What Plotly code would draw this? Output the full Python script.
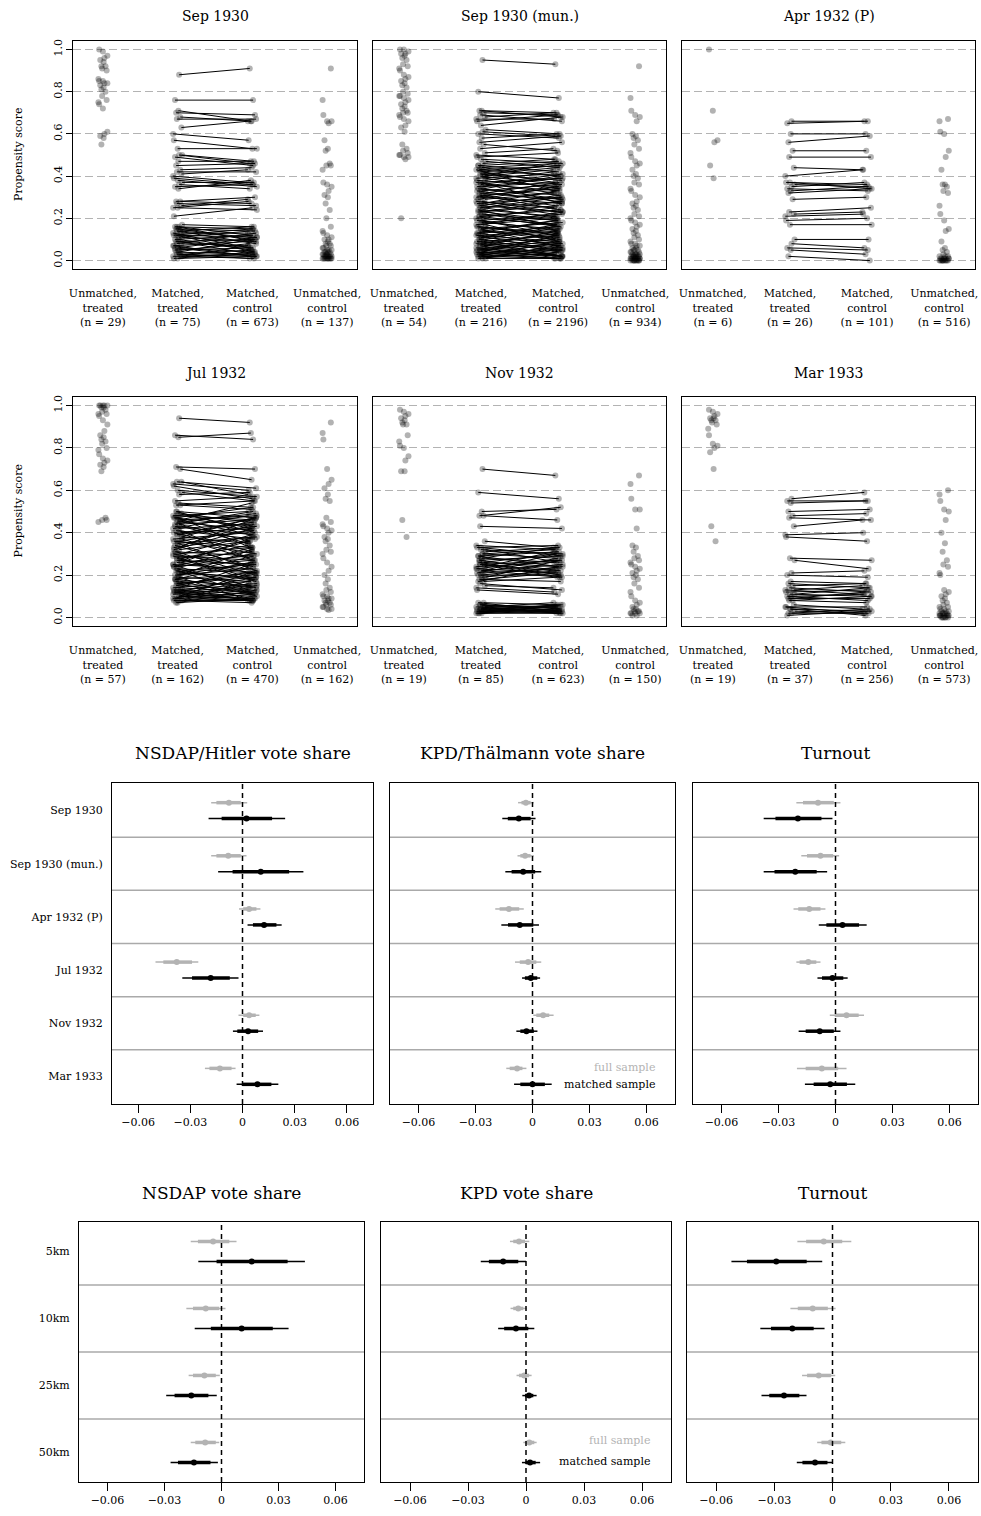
import plotly.graph_objects as go

# ------------------------------------------------------------------
# DATA
# ------------------------------------------------------------------
ps_titles = ["Sep 1930", "Sep 1930 (mun.)", "Apr 1932 (P)", "Jul 1932", "Nov 1932", "Mar 1933"]
ps_groups = ["Unmatched,<br>treated", "Matched,<br>treated", "Matched,<br>control", "Unmatched,<br>control"]
ps_counts = [[29, 75, 673, 137], [54, 216, 2196, 934], [6, 26, 101, 516],
             [57, 162, 470, 162], [19, 85, 623, 150], [19, 37, 256, 573]]

# unmatched treated propensity scores
sep30_ut = [1.00, 0.99, 0.97, 0.96, 0.95, 0.94, 0.92, 0.92, 0.91, 0.90, 0.86, 0.85, 0.85, 0.84, 0.84,
            0.83, 0.82, 0.81, 0.80, 0.78, 0.76, 0.75, 0.74, 0.72, 0.61, 0.60, 0.59, 0.58, 0.55]
mun30_ut = [1.00, 1.00, 0.99, 0.98, 0.98, 0.97, 0.96, 0.95, 0.93, 0.92, 0.91, 0.90, 0.88, 0.87, 0.86,
            0.85, 0.84, 0.83, 0.82, 0.80, 0.79, 0.78, 0.78, 0.77, 0.76, 0.75, 0.74, 0.73, 0.72, 0.71,
            0.70, 0.70, 0.69, 0.68, 0.67, 0.66, 0.64, 0.63, 0.61, 0.55, 0.53, 0.52, 0.51, 0.50, 0.50,
            0.49, 0.49, 0.48, 0.20]
apr32_ut = [1.00, 0.71, 0.57, 0.56, 0.45, 0.39]
jul32_ut = [1.00, 1.00, 1.00, 1.00, 1.00, 0.99, 0.99, 0.98, 0.97, 0.96, 0.96, 0.95, 0.93, 0.91, 0.88,
            0.86, 0.85, 0.84, 0.83, 0.82, 0.80, 0.79, 0.77, 0.75, 0.74, 0.73, 0.72, 0.71, 0.69, 0.47,
            0.46, 0.46, 0.45]
nov32_ut = [0.98, 0.97, 0.96, 0.95, 0.94, 0.93, 0.92, 0.91, 0.91, 0.86, 0.83, 0.81, 0.80, 0.76, 0.74,
            0.69, 0.69, 0.46, 0.38]
mar33_ut = [0.98, 0.97, 0.96, 0.95, 0.94, 0.94, 0.93, 0.93, 0.92, 0.91, 0.89, 0.86, 0.82, 0.81, 0.80,
            0.78, 0.70, 0.43, 0.36]

# matched pairs (treated score, control score)
sep30_pairs = [(0.88, 0.91), (0.76, 0.76), (0.71, 0.66), (0.70, 0.69), (0.68, 0.66), (0.67, 0.67),
               (0.63, 0.66), (0.60, 0.57), (0.57, 0.53), (0.53, 0.53), (0.50, 0.47), (0.50, 0.46),
               (0.49, 0.45), (0.47, 0.47), (0.45, 0.46), (0.43, 0.44), (0.42, 0.42), (0.41, 0.43),
               (0.40, 0.37), (0.39, 0.36), (0.38, 0.35), (0.37, 0.37), (0.36, 0.34), (0.35, 0.36),
               (0.34, 0.38), (0.28, 0.30), (0.28, 0.27), (0.27, 0.26), (0.26, 0.29), (0.25, 0.28),
               (0.21, 0.25), (0.25, 0.24),
               (0.17, 0.16), (0.16, 0.12), (0.16, 0.15), (0.15, 0.10), (0.15, 0.14), (0.14, 0.16),
               (0.14, 0.08), (0.13, 0.13), (0.13, 0.06), (0.12, 0.15), (0.12, 0.11), (0.11, 0.09),
               (0.11, 0.14), (0.10, 0.12), (0.10, 0.05), (0.09, 0.10), (0.09, 0.03), (0.08, 0.13),
               (0.08, 0.07), (0.07, 0.09), (0.07, 0.02), (0.06, 0.11), (0.06, 0.04), (0.05, 0.08),
               (0.05, 0.06), (0.04, 0.10), (0.04, 0.03), (0.03, 0.05), (0.03, 0.02), (0.02, 0.07),
               (0.02, 0.03), (0.01, 0.04), (0.01, 0.02), (0.02, 0.01), (0.03, 0.01), (0.06, 0.02),
               (0.09, 0.06), (0.12, 0.04), (0.14, 0.11), (0.16, 0.09)]
mun30_pairs = [(0.95, 0.93), (0.80, 0.77),
               (0.71, 0.70), (0.71, 0.68), (0.70, 0.69), (0.69, 0.66), (0.68, 0.70), (0.67, 0.67),
               (0.66, 0.69), (0.64, 0.68), (0.62, 0.60), (0.61, 0.59), (0.60, 0.58), (0.58, 0.60),
               (0.56, 0.59), (0.55, 0.52), (0.53, 0.56), (0.51, 0.53),
               (0.50, 0.48), (0.49, 0.51), (0.48, 0.46), (0.47, 0.44), (0.46, 0.48), (0.45, 0.42),
               (0.44, 0.46), (0.43, 0.40), (0.42, 0.45), (0.41, 0.38), (0.40, 0.43), (0.39, 0.41),
               (0.38, 0.35), (0.37, 0.39), (0.36, 0.33), (0.35, 0.37), (0.34, 0.31), (0.33, 0.36),
               (0.32, 0.29), (0.31, 0.34), (0.30, 0.27), (0.29, 0.32), (0.28, 0.25), (0.27, 0.30),
               (0.26, 0.23), (0.25, 0.28), (0.24, 0.21), (0.23, 0.26), (0.22, 0.19), (0.21, 0.24),
               (0.20, 0.17), (0.19, 0.22), (0.18, 0.15), (0.17, 0.20), (0.16, 0.13), (0.15, 0.18),
               (0.14, 0.11), (0.13, 0.16), (0.12, 0.09), (0.11, 0.14), (0.10, 0.07), (0.09, 0.12),
               (0.08, 0.05), (0.07, 0.10), (0.06, 0.03), (0.05, 0.08), (0.04, 0.02), (0.03, 0.06),
               (0.02, 0.01), (0.01, 0.04), (0.02, 0.03), (0.03, 0.01), (0.04, 0.05), (0.05, 0.02),
               (0.06, 0.09), (0.08, 0.03), (0.09, 0.06), (0.11, 0.08), (0.12, 0.15), (0.14, 0.10),
               (0.16, 0.12), (0.18, 0.21), (0.21, 0.16), (0.23, 0.19), (0.25, 0.30), (0.27, 0.22),
               (0.30, 0.35), (0.33, 0.28), (0.36, 0.41), (0.39, 0.34), (0.42, 0.37), (0.45, 0.47),
               (0.44, 0.40), (0.43, 0.45), (0.41, 0.44), (0.40, 0.36), (0.38, 0.42), (0.37, 0.32),
               (0.35, 0.39), (0.34, 0.29), (0.32, 0.37), (0.31, 0.26), (0.29, 0.35), (0.28, 0.23),
               (0.26, 0.31), (0.25, 0.20), (0.23, 0.28), (0.22, 0.17), (0.20, 0.25), (0.19, 0.14),
               (0.17, 0.23), (0.16, 0.10), (0.14, 0.19), (0.13, 0.07), (0.11, 0.17), (0.10, 0.04),
               (0.08, 0.13), (0.07, 0.02), (0.05, 0.11), (0.04, 0.01), (0.03, 0.08), (0.02, 0.05),
               (0.01, 0.01), (0.01, 0.07), (0.02, 0.09), (0.04, 0.12), (0.06, 0.01), (0.07, 0.14),
               (0.09, 0.02), (0.10, 0.16), (0.12, 0.05), (0.13, 0.19), (0.15, 0.06), (0.17, 0.09),
               (0.19, 0.12), (0.24, 0.16), (0.27, 0.33), (0.31, 0.24), (0.34, 0.40), (0.37, 0.27),
               (0.40, 0.46), (0.43, 0.33)]
apr32_pairs = [(0.66, 0.66), (0.65, 0.66), (0.60, 0.60), (0.56, 0.59), (0.52, 0.52), (0.49, 0.49),
               (0.44, 0.43), (0.40, 0.43), (0.37, 0.36), (0.37, 0.34), (0.36, 0.35), (0.35, 0.37),
               (0.34, 0.33), (0.33, 0.35), (0.32, 0.34), (0.29, 0.30), (0.23, 0.25), (0.22, 0.23),
               (0.21, 0.22), (0.19, 0.20), (0.17, 0.17), (0.10, 0.10), (0.08, 0.06), (0.06, 0.05),
               (0.05, 0.03), (0.02, 0.00)]
jul32_pairs = [(0.94, 0.92), (0.86, 0.84), (0.85, 0.87), (0.71, 0.70), (0.70, 0.65),
               (0.64, 0.61), (0.64, 0.58), (0.63, 0.60), (0.62, 0.56), (0.60, 0.57), (0.59, 0.55),
               (0.58, 0.59), (0.55, 0.57), (0.54, 0.52), (0.53, 0.55), (0.53, 0.51),
               (0.50, 0.47), (0.49, 0.45), (0.48, 0.50), (0.47, 0.43), (0.46, 0.48), (0.45, 0.41),
               (0.44, 0.46), (0.43, 0.39), (0.42, 0.44), (0.41, 0.37), (0.40, 0.42), (0.39, 0.47),
               (0.38, 0.35), (0.37, 0.40), (0.36, 0.33), (0.35, 0.38), (0.34, 0.44), (0.32, 0.36),
               (0.31, 0.29), (0.30, 0.33), (0.29, 0.27), (0.28, 0.31), (0.27, 0.25), (0.26, 0.29),
               (0.25, 0.23), (0.24, 0.27), (0.23, 0.21), (0.22, 0.25), (0.21, 0.19), (0.20, 0.23),
               (0.19, 0.17), (0.18, 0.21), (0.17, 0.15), (0.16, 0.19), (0.15, 0.13), (0.14, 0.17),
               (0.13, 0.11), (0.12, 0.15), (0.11, 0.09), (0.10, 0.13), (0.09, 0.08), (0.08, 0.11),
               (0.07, 0.09), (0.08, 0.07), (0.09, 0.12), (0.10, 0.08), (0.11, 0.14), (0.12, 0.10),
               (0.13, 0.16), (0.14, 0.12), (0.16, 0.20), (0.18, 0.14), (0.20, 0.26), (0.22, 0.18),
               (0.24, 0.30), (0.26, 0.21), (0.28, 0.34), (0.30, 0.24), (0.33, 0.38), (0.36, 0.30),
               (0.40, 0.45), (0.44, 0.36), (0.47, 0.52),
               (0.49, 0.42), (0.48, 0.46), (0.46, 0.39), (0.45, 0.49), (0.43, 0.35), (0.42, 0.48),
               (0.40, 0.31), (0.39, 0.43), (0.37, 0.27), (0.36, 0.41), (0.34, 0.24), (0.33, 0.46),
               (0.31, 0.20), (0.30, 0.39), (0.28, 0.17), (0.27, 0.36), (0.25, 0.13), (0.24, 0.33),
               (0.22, 0.10), (0.21, 0.29), (0.19, 0.08), (0.18, 0.26), (0.16, 0.09), (0.15, 0.22),
               (0.13, 0.08), (0.12, 0.19), (0.10, 0.09), (0.09, 0.16), (0.08, 0.08), (0.07, 0.13),
               (0.08, 0.18), (0.10, 0.21), (0.12, 0.08), (0.14, 0.25), (0.17, 0.11), (0.20, 0.32),
               (0.23, 0.14), (0.26, 0.37), (0.29, 0.19), (0.32, 0.42), (0.35, 0.22), (0.38, 0.47),
               (0.41, 0.28), (0.44, 0.50), (0.47, 0.33), (0.50, 0.40), (0.46, 0.54)]
nov32_pairs = [(0.70, 0.67), (0.59, 0.56), (0.50, 0.51), (0.48, 0.52), (0.48, 0.46), (0.43, 0.42),
               (0.36, 0.33), (0.34, 0.32), (0.33, 0.34), (0.32, 0.30), (0.31, 0.33), (0.30, 0.28),
               (0.29, 0.31), (0.28, 0.26), (0.27, 0.29), (0.26, 0.24), (0.25, 0.27), (0.25, 0.22),
               (0.24, 0.26), (0.23, 0.21), (0.22, 0.25), (0.22, 0.19), (0.21, 0.23), (0.20, 0.20),
               (0.19, 0.22), (0.18, 0.17), (0.17, 0.19), (0.16, 0.13), (0.15, 0.14), (0.14, 0.12),
               (0.13, 0.11), (0.33, 0.29), (0.32, 0.26), (0.30, 0.32), (0.29, 0.24), (0.28, 0.33),
               (0.27, 0.22), (0.26, 0.30), (0.25, 0.19), (0.24, 0.31), (0.23, 0.27), (0.21, 0.28),
               (0.20, 0.24), (0.19, 0.27), (0.18, 0.21), (0.17, 0.24), (0.22, 0.30), (0.26, 0.20),
               (0.07, 0.06), (0.06, 0.04), (0.05, 0.07), (0.05, 0.03), (0.04, 0.05),
               (0.04, 0.02), (0.03, 0.04), (0.03, 0.06), (0.02, 0.03), (0.02, 0.02), (0.03, 0.02),
               (0.04, 0.03), (0.06, 0.03), (0.05, 0.05), (0.02, 0.04), (0.03, 0.03), (0.04, 0.06),
               (0.05, 0.02), (0.06, 0.05), (0.07, 0.03), (0.03, 0.05), (0.02, 0.06)]
mar33_pairs = [(0.56, 0.59), (0.55, 0.55), (0.54, 0.55), (0.50, 0.51), (0.48, 0.49), (0.47, 0.46),
               (0.43, 0.46), (0.39, 0.40), (0.38, 0.36), (0.28, 0.27), (0.27, 0.23), (0.21, 0.22),
               (0.20, 0.19), (0.17, 0.16), (0.16, 0.14), (0.15, 0.16), (0.14, 0.12), (0.13, 0.15),
               (0.13, 0.11), (0.12, 0.13), (0.11, 0.10), (0.11, 0.14), (0.10, 0.11), (0.10, 0.08),
               (0.09, 0.12), (0.09, 0.09), (0.08, 0.07), (0.08, 0.10), (0.06, 0.04), (0.05, 0.02),
               (0.05, 0.05), (0.04, 0.03), (0.03, 0.02), (0.02, 0.02), (0.01, 0.03), (0.04, 0.01),
               (0.02, 0.04)]

# unmatched control propensity scores
sep30_uc = [0.91, 0.76, 0.69, 0.66, 0.66, 0.65, 0.57, 0.53, 0.52, 0.46, 0.45, 0.45, 0.43, 0.37, 0.36,
            0.35, 0.33, 0.31, 0.30, 0.27, 0.24, 0.20, 0.16, 0.14, 0.13, 0.12, 0.11, 0.10, 0.10, 0.09,
            0.08, 0.08, 0.07, 0.07, 0.06, 0.06, 0.05, 0.05, 0.05, 0.04, 0.04, 0.04, 0.04, 0.03, 0.03,
            0.03, 0.03, 0.03, 0.02, 0.02, 0.02, 0.02, 0.02, 0.02, 0.02, 0.01, 0.01, 0.01, 0.01, 0.01,
            0.01, 0.01, 0.01, 0.01, 0.01]
mun30_uc = [0.92, 0.77, 0.71, 0.69, 0.68, 0.66, 0.60, 0.59, 0.58, 0.57, 0.55, 0.53, 0.51, 0.49, 0.47,
            0.46, 0.45, 0.43, 0.41, 0.40, 0.39, 0.37, 0.36, 0.34, 0.33, 0.31, 0.30, 0.28, 0.27, 0.26,
            0.25, 0.24, 0.22, 0.21, 0.20, 0.19, 0.18, 0.17, 0.16, 0.15, 0.14, 0.13, 0.12, 0.11, 0.10,
            0.09, 0.08, 0.08, 0.07, 0.07, 0.06, 0.06, 0.05, 0.05, 0.05, 0.04, 0.04, 0.04, 0.03, 0.03,
            0.03, 0.03, 0.02, 0.02, 0.02, 0.02, 0.02, 0.01, 0.01, 0.01, 0.01, 0.01, 0.01, 0.00, 0.00,
            0.00, 0.00, 0.00, 0.00, 0.02, 0.01, 0.01, 0.00, 0.00, 0.03, 0.02, 0.01, 0.00, 0.00]
apr32_uc = [0.67, 0.66, 0.61, 0.60, 0.52, 0.49, 0.43, 0.36, 0.36, 0.35, 0.33, 0.32, 0.26, 0.22, 0.19,
            0.15, 0.14, 0.09, 0.06, 0.05, 0.04, 0.03, 0.02, 0.02, 0.01, 0.01, 0.01, 0.01, 0.01, 0.00,
            0.00, 0.00, 0.00, 0.00, 0.00, 0.00, 0.01, 0.01, 0.00, 0.00, 0.02, 0.00]
jul32_uc = [0.92, 0.87, 0.84, 0.70, 0.65, 0.63, 0.61, 0.58, 0.56, 0.55, 0.47, 0.45, 0.44, 0.43, 0.42,
            0.41, 0.40, 0.38, 0.37, 0.36, 0.34, 0.32, 0.31, 0.30, 0.28, 0.26, 0.24, 0.22, 0.20, 0.18,
            0.16, 0.14, 0.13, 0.12, 0.11, 0.10, 0.10, 0.09, 0.09, 0.08, 0.08, 0.07, 0.07, 0.06, 0.06,
            0.05, 0.05, 0.04, 0.04, 0.035]
nov32_uc = [0.67, 0.63, 0.56, 0.51, 0.51, 0.42, 0.34, 0.33, 0.31, 0.29, 0.28, 0.27, 0.26, 0.25, 0.24,
            0.23, 0.22, 0.21, 0.20, 0.19, 0.18, 0.16, 0.14, 0.12, 0.10, 0.08, 0.07, 0.06, 0.05, 0.04,
            0.04, 0.03, 0.03, 0.03, 0.02, 0.02, 0.02, 0.02, 0.01, 0.01]
mar33_uc = [0.60, 0.58, 0.55, 0.51, 0.50, 0.46, 0.40, 0.35, 0.31, 0.27, 0.25, 0.24, 0.21, 0.20, 0.13,
            0.12, 0.11, 0.10, 0.09, 0.08, 0.07, 0.06, 0.05, 0.05, 0.04, 0.04, 0.03, 0.03, 0.03, 0.02,
            0.02, 0.02, 0.02, 0.01, 0.01, 0.01, 0.01, 0.01, 0.00, 0.00, 0.00, 0.00, 0.01, 0.00, 0.00,
            0.02, 0.01]

ps_ut = [sep30_ut, mun30_ut, apr32_ut, jul32_ut, nov32_ut, mar33_ut]
ps_pairs = [sep30_pairs, mun30_pairs, apr32_pairs, jul32_pairs, nov32_pairs, mar33_pairs]
ps_uc = [sep30_uc, mun30_uc, apr32_uc, jul32_uc, nov32_uc, mar33_uc]

# coefficient plots: (estimate, lower 95, upper 95, lower inner, upper inner)
elec_rows = ["Sep 1930", "Sep 1930 (mun.)", "Apr 1932 (P)", "Jul 1932", "Nov 1932", "Mar 1933"]
dist_rows = ["5km", "10km", "25km", "50km"]
x_ticks = [-0.06, -0.03, 0, 0.03, 0.06]
x_ticktext = ["\u22120.06", "\u22120.03", "0", "0.03", "0.06"]

nsdap_full = [(-0.0078, -0.0180, 0.0027, -0.0150, -0.0010),
              (-0.0082, -0.0180, 0.0023, -0.0150, -0.0010),
              (0.0038, -0.0020, 0.0103, 0.0004, 0.0080),
              (-0.0378, -0.0500, -0.0254, -0.0455, -0.0290),
              (0.0038, -0.0023, 0.0097, 0.0004, 0.0076),
              (-0.0130, -0.0216, -0.0040, -0.0190, -0.0063)]
nsdap_match = [(0.0023, -0.0195, 0.0245, -0.0120, 0.0170),
               (0.0105, -0.0140, 0.0350, -0.0057, 0.0268),
               (0.0124, 0.0029, 0.0225, 0.0060, 0.0195),
               (-0.0183, -0.0346, -0.0023, -0.0290, -0.0073),
               (0.0032, -0.0055, 0.0118, -0.0030, 0.0090),
               (0.0086, -0.0034, 0.0206, 0.0000, 0.0166)]
kpd_full = [(-0.0035, -0.0076, 0.0007, -0.0058, -0.0010),
            (-0.0039, -0.0079, 0.0007, -0.0064, -0.0010),
            (-0.0124, -0.0196, -0.0046, -0.0173, -0.0070),
            (-0.0023, -0.0092, 0.0046, -0.0067, 0.0020),
            (0.0056, 0.0004, 0.0111, 0.0020, 0.0088),
            (-0.0081, -0.0138, -0.0032, -0.0120, -0.0053)]
kpd_match = [(-0.0072, -0.0159, 0.0016, -0.0130, -0.0010),
             (-0.0049, -0.0143, 0.0046, -0.0110, 0.0014),
             (-0.0067, -0.0164, 0.0034, -0.0129, 0.0004),
             (-0.0009, -0.0055, 0.0040, -0.0040, 0.0025),
             (-0.0032, -0.0085, 0.0026, -0.0064, 0.0007),
             (0.0000, -0.0097, 0.0101, -0.0064, 0.0065)]
turn_full = [(-0.0092, -0.0206, 0.0026, -0.0171, -0.0009),
             (-0.0079, -0.0180, 0.0019, -0.0150, -0.0012),
             (-0.0138, -0.0221, -0.0053, -0.0196, -0.0079),
             (-0.0143, -0.0206, -0.0079, -0.0189, -0.0101),
             (0.0058, -0.0030, 0.0150, -0.0004, 0.0122),
             (-0.0072, -0.0203, 0.0058, -0.0157, 0.0014)]
turn_match = [(-0.0198, -0.0378, -0.0016, -0.0316, -0.0074),
              (-0.0212, -0.0378, -0.0044, -0.0321, -0.0099),
              (0.0037, -0.0088, 0.0164, -0.0048, 0.0124),
              (-0.0016, -0.0095, 0.0064, -0.0071, 0.0041),
              (-0.0083, -0.0194, 0.0026, -0.0157, -0.0009),
              (-0.0028, -0.0161, 0.0104, -0.0115, 0.0060)]
nsdap_d_full = [(-0.0044, -0.0162, 0.0079, -0.0124, 0.0041),
                (-0.0083, -0.0185, 0.0021, -0.0150, -0.0012),
                (-0.0090, -0.0173, -0.0009, -0.0150, -0.0030),
                (-0.0086, -0.0162, -0.0012, -0.0138, -0.0030)]
nsdap_d_match = [(0.0159, -0.0122, 0.0439, -0.0026, 0.0348),
                 (0.0106, -0.0141, 0.0353, -0.0056, 0.0270),
                 (-0.0159, -0.0291, -0.0025, -0.0247, -0.0069),
                 (-0.0145, -0.0268, -0.0019, -0.0229, -0.0058)]
kpd_d_full = [(-0.0036, -0.0083, 0.0017, -0.0066, -0.0005),
              (-0.0040, -0.0080, 0.0003, -0.0066, -0.0014),
              (-0.0009, -0.0049, 0.0029, -0.0036, 0.0016),
              (0.0017, -0.0014, 0.0055, -0.0002, 0.0043)]
kpd_d_match = [(-0.0118, -0.0234, 0.0000, -0.0192, -0.0040),
               (-0.0052, -0.0144, 0.0043, -0.0113, 0.0012),
               (0.0016, -0.0019, 0.0055, -0.0005, 0.0038),
               (0.0021, -0.0021, 0.0073, -0.0002, 0.0050)]
turn_d_full = [(-0.0045, -0.0181, 0.0097, -0.0136, 0.0050),
               (-0.0102, -0.0217, 0.0016, -0.0179, -0.0024),
               (-0.0071, -0.0157, 0.0014, -0.0131, -0.0007),
               (-0.0009, -0.0079, 0.0066, -0.0057, 0.0045)]
turn_d_match = [(-0.0290, -0.0521, -0.0053, -0.0441, -0.0133),
                (-0.0207, -0.0372, -0.0041, -0.0317, -0.0097),
                (-0.0250, -0.0366, -0.0134, -0.0326, -0.0171),
                (-0.0090, -0.0184, 0.0000, -0.0155, -0.0026)]

coef_titles = ["NSDAP/Hitler vote share", "KPD/Th\u00e4lmann vote share", "Turnout",
               "NSDAP vote share", "KPD vote share", "Turnout"]
coef_full = [nsdap_full, kpd_full, turn_full, nsdap_d_full, kpd_d_full, turn_d_full]
coef_match = [nsdap_match, kpd_match, turn_match, nsdap_d_match, kpd_d_match, turn_d_match]

# ------------------------------------------------------------------
# STYLE / LAYOUT
# ------------------------------------------------------------------
W, H = 981, 1516
FONT = "DejaVu Serif"
PT = "rgba(0,0,0,0.30)"
LIGHT = "#b3b3b3"
JIT = [-0.05, 0.02, -0.02, 0.05, 0.0, -0.035, 0.035, -0.06, 0.06, 0.01, -0.01]


def jit(i, phase):
    return JIT[(i * 4 + phase) % len(JIT)]


def xdom(a, b):
    return [a / W, b / W]


def ydom(top, bot):
    return [1 - bot / H, 1 - top / H]


def ax_names(k):
    return ("x" if k == 1 else f"x{k}"), ("y" if k == 1 else f"y{k}")


fig = go.Figure()
layout = dict(width=W, height=H, margin=dict(l=0, r=0, t=0, b=0), template="none",
              paper_bgcolor="white", plot_bgcolor="white", showlegend=False,
              font=dict(family=FONT, size=11, color="black"))
annotations = []
shapes = []

ps_x = [(73, 357), (373, 666), (682, 975)]
ps_y = [(41, 269), (397, 626)]
ps_title_y = [16, 373]

for k in range(6):
    r, c = divmod(k, 3)
    ai = k + 1
    xs, ys = ax_names(ai)
    ut, pairs, uc = ps_ut[k], ps_pairs[k], ps_uc[k]
    mk = dict(size=6, color=PT, line=dict(width=0))
    fig.add_trace(go.Scatter(x=[1 + jit(i, 0) for i in range(len(ut))], y=ut, mode="markers",
                             marker=mk, xaxis=xs, yaxis=ys, hoverinfo="skip"))
    fig.add_trace(go.Scatter(x=[4 + jit(i, 3) for i in range(len(uc))], y=uc, mode="markers",
                             marker=mk, xaxis=xs, yaxis=ys, hoverinfo="skip"))
    tx = [2 + jit(i, 1) for i in range(len(pairs))]
    cx = [3 + jit(i, 5) for i in range(len(pairs))]
    fig.add_trace(go.Scatter(x=tx + cx, y=[p[0] for p in pairs] + [p[1] for p in pairs],
                             mode="markers", marker=mk, xaxis=xs, yaxis=ys, hoverinfo="skip"))
    lx, ly = [], []
    for i, (t, cc) in enumerate(pairs):
        lx += [tx[i], cx[i], None]
        ly += [t, cc, None]
    fig.add_trace(go.Scatter(x=lx, y=ly, mode="lines", line=dict(color="black", width=1),
                             xaxis=xs, yaxis=ys, hoverinfo="skip"))

    xkey = "xaxis" if ai == 1 else f"xaxis{ai}"
    ykey = "yaxis" if ai == 1 else f"yaxis{ai}"
    layout[xkey] = dict(domain=xdom(*ps_x[c]), anchor=ys, range=[0.6, 4.4],
                        tickvals=[1, 2, 3, 4],
                        ticktext=[f"{g}<br>(n = {n})" for g, n in zip(ps_groups, ps_counts[k])],
                        ticks="", ticklabelstandoff=14, tickfont=dict(size=11),
                        showline=True, mirror=True, linecolor="black", linewidth=1,
                        showgrid=False, zeroline=False, automargin=False, fixedrange=True)
    layout[ykey] = dict(domain=ydom(*ps_y[r]), anchor=xs, range=[-0.04, 1.04],
                        tickvals=[0, 0.2, 0.4, 0.6, 0.8, 1.0],
                        ticktext=["0.0", "0.2", "0.4", "0.6", "0.8", "1.0"],
                        showticklabels=(c == 0), ticks=("outside" if c == 0 else ""),
                        ticklen=6, tickcolor="black", tickangle=-90, tickfont=dict(size=11),
                        showgrid=True, gridcolor="#b3b3b3", gridwidth=1, griddash="8px,4px",
                        showline=True, mirror=True, linecolor="black", linewidth=1,
                        zeroline=False, automargin=False, fixedrange=True)
    annotations.append(dict(text=ps_titles[k], x=(ps_x[c][0] + ps_x[c][1]) / 2 / W,
                            y=1 - ps_title_y[r] / H, xref="paper", yref="paper",
                            xanchor="center", yanchor="middle", showarrow=False,
                            font=dict(size=14)))
    if c == 0:
        annotations.append(dict(text="Propensity score", x=18 / W,
                                y=1 - (ps_y[r][0] + ps_y[r][1]) / 2 / H, xref="paper",
                                yref="paper", textangle=-90, xanchor="center",
                                yanchor="middle", showarrow=False, font=dict(size=11)))

coef_x = [(112, 373), (390, 675), (693, 978), (79, 364), (381, 671), (687, 978)]
coef_y = [(783, 1104), (783, 1104), (783, 1104), (1222, 1482), (1222, 1482), (1222, 1482)]
coef_title_y = [753, 753, 753, 1193, 1193, 1193]

for k in range(6):
    ai = k + 7
    xs, ys = ax_names(ai)
    rows = elec_rows if k < 3 else dist_rows
    nrow = len(rows)
    for data, col, off in ((coef_full[k], LIGHT, -0.15), (coef_match[k], "black", 0.15)):
        thin_x, thin_y, thick_x, thick_y = [], [], [], []
        for i, (est, lo, hi, lo2, hi2) in enumerate(data):
            yy = i + 1 + off
            thin_x += [lo, hi, None]
            thin_y += [yy, yy, None]
            thick_x += [lo2, hi2, None]
            thick_y += [yy, yy, None]
        fig.add_trace(go.Scatter(x=thin_x, y=thin_y, mode="lines", line=dict(color=col, width=1.5),
                                 xaxis=xs, yaxis=ys, hoverinfo="skip"))
        fig.add_trace(go.Scatter(x=thick_x, y=thick_y, mode="lines", line=dict(color=col, width=3.5),
                                 xaxis=xs, yaxis=ys, hoverinfo="skip"))
        fig.add_trace(go.Scatter(x=[d[0] for d in data], y=[i + 1 + off for i in range(len(data))],
                                 mode="markers", marker=dict(size=6, color=col, line=dict(width=0)),
                                 xaxis=xs, yaxis=ys, hoverinfo="skip"))
    yr = [6.52, 0.48] if k < 3 else [4.44, 0.56]
    layout[f"xaxis{ai}"] = dict(domain=xdom(*coef_x[k]), anchor=ys, range=[-0.075, 0.075],
                                tickvals=x_ticks, ticktext=x_ticktext, ticks="outside", ticklen=8,
                                tickcolor="black", tickfont=dict(size=11),
                                showline=True, mirror=True, linecolor="black", linewidth=1,
                                showgrid=False, zeroline=False, automargin=False, fixedrange=True)
    layout[f"yaxis{ai}"] = dict(domain=ydom(*coef_y[k]), anchor=xs, range=yr,
                                tickvals=list(range(1, nrow + 1)), ticktext=rows,
                                showticklabels=(k % 3 == 0), ticks="", ticklabelstandoff=6,
                                tickfont=dict(size=11),
                                showline=True, mirror=True, linecolor="black", linewidth=1,
                                showgrid=False, zeroline=False, automargin=False, fixedrange=True)
    for i in range(1, nrow):
        shapes.append(dict(type="line", xref=f"{xs} domain", yref=ys, x0=0, x1=1,
                           y0=i + 0.5, y1=i + 0.5, line=dict(color="#aaaaaa", width=1.5)))
    shapes.append(dict(type="line", xref=xs, yref=f"{ys} domain", x0=0, x1=0, y0=0, y1=1,
                       line=dict(color="black", width=1.5, dash="5px,4px")))
    annotations.append(dict(text=coef_titles[k], x=(coef_x[k][0] + coef_x[k][1]) / 2 / W,
                            y=1 - coef_title_y[k] / H, xref="paper", yref="paper",
                            xanchor="center", yanchor="middle", showarrow=False,
                            font=dict(size=17)))

for (xr, y1, y2) in ((657, 1067, 1084), (652, 1440, 1461)):
    annotations.append(dict(text="full sample", x=xr / W, y=1 - y1 / H, xref="paper", yref="paper",
                            xanchor="right", yanchor="middle", showarrow=False,
                            font=dict(size=11, color=LIGHT)))
    annotations.append(dict(text="matched sample", x=xr / W, y=1 - y2 / H, xref="paper",
                            yref="paper", xanchor="right", yanchor="middle", showarrow=False,
                            font=dict(size=11, color="black")))

layout["annotations"] = annotations
layout["shapes"] = shapes
fig.update_layout(**layout)
fig.write_html("out.html", config={"displayModeBar": False, "staticPlot": True},
               post_script="document.body.style.margin='0';document.body.style.overflow='hidden';")
